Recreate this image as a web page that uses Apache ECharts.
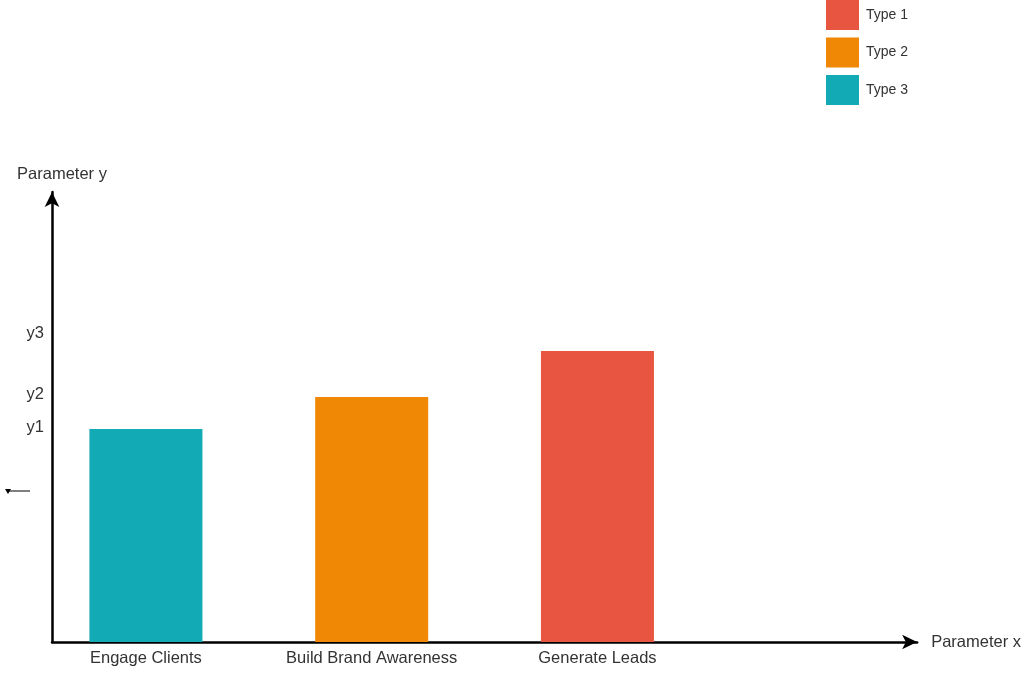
<!DOCTYPE html>
<html>
<head>
<meta charset="utf-8">
<script src="https://cdn.jsdelivr.net/npm/echarts@6/dist/echarts.min.js"></script>
<style>html,body{margin:0;padding:0;background:#fff}#c{width:1024px;height:673px}</style>
</head>
<body>
<div id="c"></div>
<script>
const categories = ['Engage Clients', 'Build Brand Awareness', 'Generate Leads'];
const seriesNames = ['Type 3', 'Type 2', 'Type 1'];
const seriesValues = [213, 245, 291];
const seriesColors = ['#12AAB5', '#F08705', '#E85642'];
const yTickValues = [215, 248, 309];
const yTickLabels = ['y1', 'y2', 'y3'];
const legendOrder = ['Type 1', 'Type 2', 'Type 3'];

const chart = echarts.init(document.getElementById('c'));
const font = 'Liberation Sans, Arial, Helvetica, sans-serif';
const mkLine = () => ({ show: true, onZero: false, symbol: ['none', 'arrow'], symbolSize: [11, 15], lineStyle: { color: '#000', width: 2.5 } });

const series = seriesNames.map((n, i) => ({
  name: n,
  type: 'bar',
  barWidth: 113,
  barGap: '-100%',
  itemStyle: { color: seriesColors[i] },
  data: [[i, seriesValues[i]]]
}));

chart.setOption({
  animation: false,
  textStyle: { fontFamily: font },
  grid: { left: 52, right: 106, top: 192, bottom: 31, containLabel: false },
  legend: {
    orient: 'vertical', left: 826, top: 0, padding: 0,
    itemWidth: 33, itemHeight: 30, itemGap: 7.5, icon: 'rect',
    data: legendOrder,
    textStyle: { fontSize: 14, color: '#333', fontFamily: font, padding: [4, 0, 0, 2] }
  },
  xAxis: {
    type: 'value', min: -0.416, max: 3.416,
    name: 'Parameter x', nameLocation: 'end', nameGap: 14,
    nameTextStyle: { fontSize: 16.5, color: '#333', fontFamily: font, padding: [2, 0, 0, 0] },
    axisLine: mkLine(),
    axisTick: { show: false },
    splitLine: { show: false },
    axisLabel: {
      customValues: [0, 1, 2],
      formatter: v => categories[Math.round(v)],
      fontSize: 16.5, color: '#333', margin: 8, fontFamily: font
    }
  },
  yAxis: {
    type: 'value', min: 0, max: 450,
    name: 'Parameter y', nameLocation: 'end', nameGap: 9,
    nameTextStyle: { fontSize: 16.5, color: '#333', align: 'center', padding: [0, 0, 0, 20], fontFamily: font },
    axisLine: mkLine(),
    axisTick: { show: false },
    splitLine: { show: false },
    axisLabel: {
      customValues: yTickValues,
      formatter: v => yTickLabels[yTickValues.indexOf(v)],
      fontSize: 16.5, color: '#333', margin: 8, fontFamily: font
    }
  },
  graphic: [
    { type: 'line', shape: { x1: 9, y1: 491, x2: 30, y2: 491 }, style: { stroke: '#000', lineWidth: 1 } },
    { type: 'polygon', shape: { points: [[5, 489], [11, 489], [8, 494]] }, style: { fill: '#000' } }
  ],
  series: series
});
</script>
</body>
</html>
